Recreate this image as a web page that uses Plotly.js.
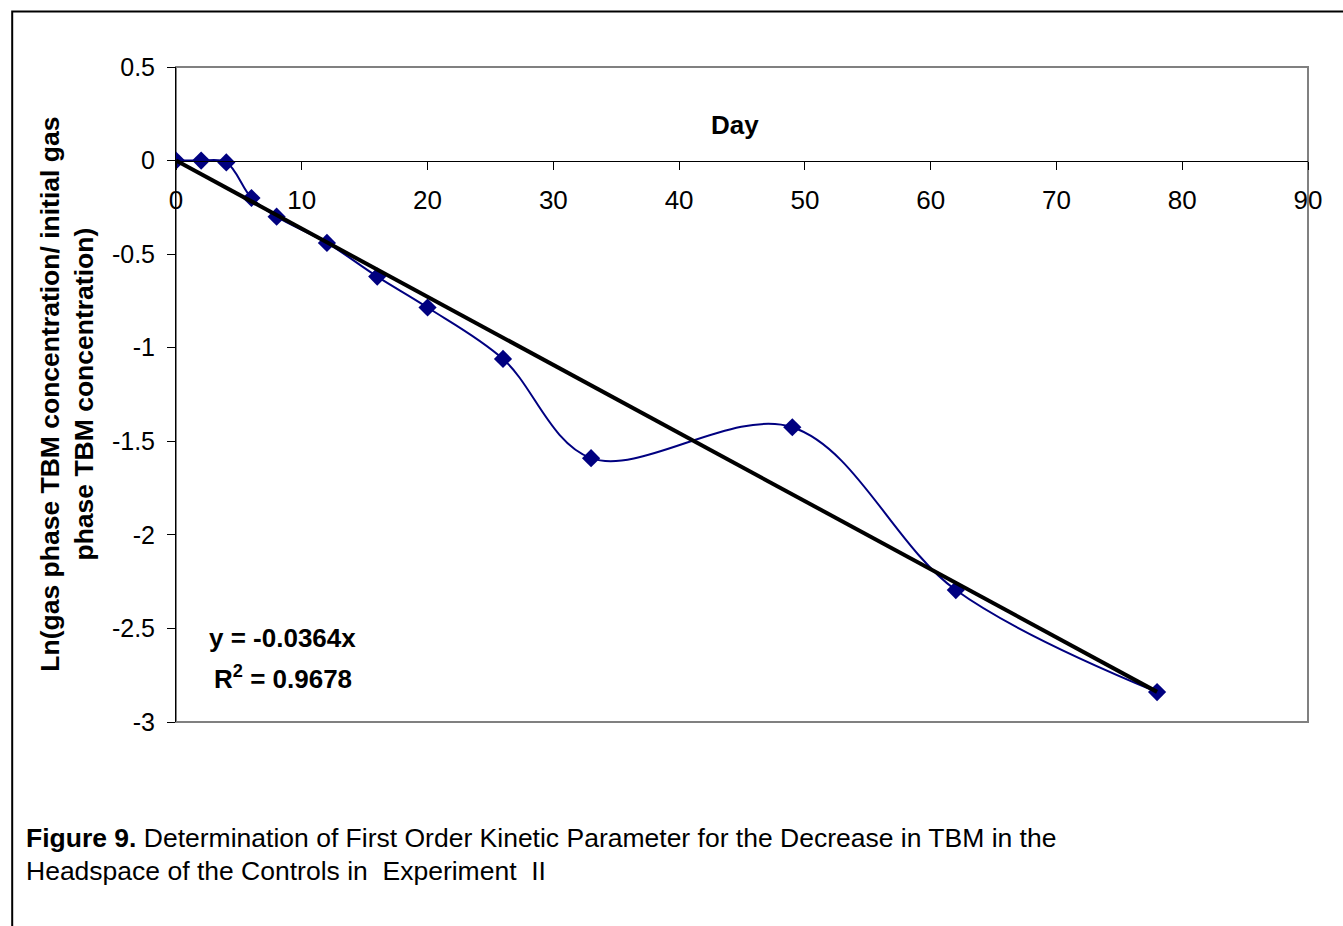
<!DOCTYPE html>
<html>
<head>
<meta charset="utf-8">
<script src="https://cdn.plot.ly/plotly-3.0.1.min.js"></script>
<style>
  html, body { margin: 0; padding: 0; background: #ffffff; }
  #chart { width: 1343px; height: 926px; }
</style>
</head>
<body>
<div id="chart"></div>
<script>
// Measured data (days vs ln(C/C0))
const days = [0, 2, 4, 6, 8, 12, 16, 20, 26, 33, 49, 62, 78];
const lnRatio = [0, 0, -0.01, -0.2, -0.3, -0.44, -0.62, -0.785, -1.06, -1.59, -1.425, -2.295, -2.84];

// Linear trendline y = -0.0364x (end points)
const trendX = [0, 78];
const trendY = [0, -2.839];

// Tick labels
const xTickVals = [0, 10, 20, 30, 40, 50, 60, 70, 80, 90];
const xTickText = ["0", "10", "20", "30", "40", "50", "60", "70", "80", "90"];
const yTickVals = [0.5, 0, -0.5, -1, -1.5, -2, -2.5, -3];
const yTickText = ["0.5", "0", "-0.5", "-1", "-1.5", "-2", "-2.5", "-3"];

const FONT = "Arial, 'Liberation Sans', sans-serif";

const traces = [
  {
    x: days, y: lnRatio, type: "scatter", mode: "lines+markers",
    line: { color: "#000080", width: 2, shape: "spline", smoothing: 1 },
    marker: { symbol: "diamond", color: "#000080", size: 14 },
    hoverinfo: "x+y", showlegend: false
  },
  {
    x: trendX, y: trendY, type: "scatter", mode: "lines",
    line: { color: "#000000", width: 4 },
    hoverinfo: "skip", showlegend: false
  }
];

const layout = {
  width: 1343, height: 926,
  margin: { l: 176, r: 35, t: 67, b: 204 },
  paper_bgcolor: "#ffffff", plot_bgcolor: "#ffffff",
  font: { family: FONT, color: "#000000" },
  showlegend: false,
  xaxis: {
    range: [0, 90], tickvals: xTickVals, ticktext: xTickText,
    anchor: "free", position: 3 / 3.5, side: "bottom",
    showgrid: false, zeroline: false,
    showline: true, linecolor: "#000000", linewidth: 1,
    ticks: "outside", ticklen: 8, tickwidth: 1, tickcolor: "#000000",
    ticklabelstandoff: 8,
    tickfont: { family: FONT, size: 26, color: "#000000" }
  },
  yaxis: {
    range: [-3, 0.5], tickvals: yTickVals, ticktext: yTickText,
    showgrid: false, zeroline: false,
    showline: true, linecolor: "#000000", linewidth: 1,
    ticks: "outside", ticklen: 8, tickwidth: 1, tickcolor: "#000000",
    ticklabelstandoff: 7,
    tickfont: { family: FONT, size: 25, color: "#000000" }
  },
  shapes: [
    { type: "rect", xref: "paper", yref: "paper", x0: 0, x1: 1, y0: 0, y1: 1,
      line: { color: "#808080", width: 2 }, layer: "below" },
    { type: "rect", xref: "paper", yref: "paper",
      x0: -0.1447, x1: 2, y0: -2, y1: 1.0847,
      line: { color: "#000000", width: 2 }, layer: "above" }
  ],
  annotations: [
    { text: "<b>Day</b>", xref: "paper", yref: "y", x: 0.4935, y: 0.19,
      showarrow: false, xanchor: "center", yanchor: "middle",
      font: { family: FONT, size: 26, color: "#000000" } },
    { text: "<b>Ln(gas phase TBM concentration/ initial gas<br>phase TBM concentration)</b>",
      xref: "paper", yref: "paper", x: -0.097, y: 0.5,
      textangle: -90, showarrow: false, xanchor: "center", yanchor: "middle",
      align: "center",
      font: { family: FONT, size: 26.5, color: "#000000" } },
    { text: "<b>y = -0.0364x</b>", xref: "x", yref: "y", x: 8.5, y: -2.552,
      showarrow: false, xanchor: "center", yanchor: "middle",
      font: { family: FONT, size: 26, color: "#000000" } },
    { text: "<b>R<sup>2</sup> = 0.9678</b>", xref: "x", yref: "y", x: 8.5, y: -2.76,
      showarrow: false, xanchor: "center", yanchor: "middle",
      font: { family: FONT, size: 26, color: "#000000" } },
    { text: "<b>Figure 9.</b> Determination of First Order Kinetic Parameter for the Decrease in TBM in the",
      xref: "paper", yref: "paper", x: -0.1342, y: -0.1771,
      showarrow: false, xanchor: "left", yanchor: "middle", align: "left",
      font: { family: FONT, size: 26.5, color: "#000000" } },
    { text: "Headspace of the Controls in  Experiment  II",
      xref: "paper", yref: "paper", x: -0.1342, y: -0.2275,
      showarrow: false, xanchor: "left", yanchor: "middle", align: "left",
      font: { family: FONT, size: 26.5, color: "#000000" } }
  ]
};

Plotly.newPlot("chart", traces, layout, { displayModeBar: false, staticPlot: true });
</script>
</body>
</html>
